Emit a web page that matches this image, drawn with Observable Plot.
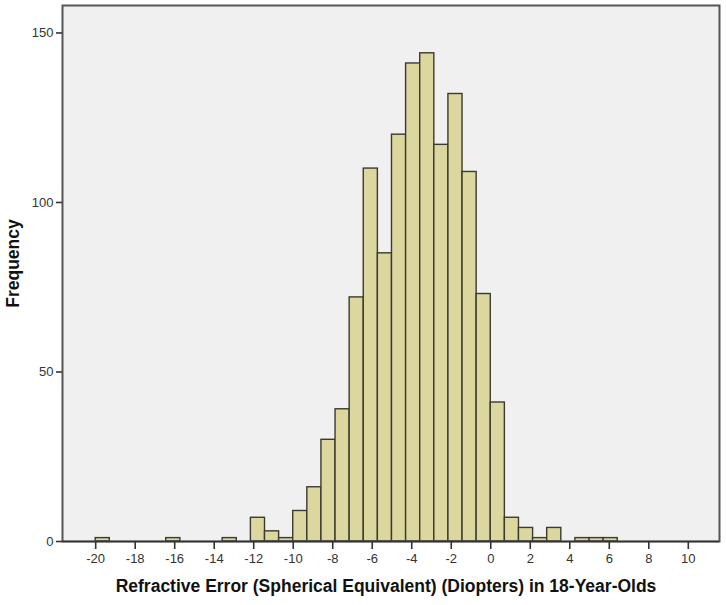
<!DOCTYPE html>
<html>
<head>
<meta charset="utf-8">
<script src="https://cdn.jsdelivr.net/npm/d3@7"></script>
<script src="https://cdn.jsdelivr.net/npm/@observablehq/plot@0.6"></script>
<style>
  html, body { margin: 0; padding: 0; background: #ffffff; }
  #chart svg { display: block; font-family: "Liberation Sans", Arial, sans-serif; }
</style>
</head>
<body>
<div id="chart"></div>
<script>
// Histogram bins: first lower edge and bin width (SPSS automatic bins)
const binFirstEdge = -20;
const binWidth = 5 / 7;
// Frequency per bin, starting at -20
const counts = [1, 0, 0, 0, 0, 1, 0, 0, 0, 1, 0, 7, 3, 1, 9, 16, 30, 39, 72, 110,
                85, 120, 141, 144, 117, 132, 109, 73, 41, 7, 4, 1, 4, 0, 1, 1, 1];
const xTicks = [-20, -18, -16, -14, -12, -10, -8, -6, -4, -2, 0, 2, 4, 6, 8, 10];
const yTicks = [0, 50, 100, 150];
const xTitle = "Refractive Error (Spherical Equivalent) (Diopters) in 18-Year-Olds";
const yTitle = "Frequency";

const bins = counts.map((c, i) => ({
  x1: binFirstEdge + i * binWidth,
  x2: binFirstEdge + (i + 1) * binWidth,
  count: c
})).filter(d => d.count > 0);

const chart = Plot.plot({
  width: 726,
  height: 605,
  marginLeft: 62,
  marginRight: 7,
  marginTop: 5,
  marginBottom: 64,
  x: { domain: [-21.68, 11.58] },
  y: { domain: [0, 158.1] },
  style: { fontFamily: "Liberation Sans, Arial, sans-serif", fontSize: "13px", color: "#222" },
  marks: [
    Plot.frame({ fill: "#F0F0F0", stroke: null }),
    Plot.rectY(bins, {
      x1: "x1", x2: "x2", y: "count",
      fill: "#DCD79F", stroke: "#3a3a30", strokeWidth: 1.4, inset: 0
    }),
    Plot.frame({ stroke: "#555", strokeWidth: 2 }),
    Plot.axisX(xTicks, {
      anchor: "bottom", tickSize: 8, tickPadding: 4, stroke: "#333", strokeWidth: 1.6,
      fontSize: 13, fill: "#333", label: null, tickFormat: d => String(d).replace("−", "-")
    }),
    Plot.axisY(yTicks, {
      anchor: "left", tickSize: 6, tickPadding: 3, stroke: "#333", strokeWidth: 1.6,
      fontSize: 13, fill: "#333", label: null
    }),
    Plot.ruleY([0], { stroke: "#333", strokeWidth: 1.6 }),
    Plot.text([xTitle], {
      frameAnchor: "bottom", dy: 50, dx: -5, fontWeight: "bold", fontSize: 17.5, fill: "#111"
    }),
    Plot.text([yTitle], {
      frameAnchor: "left", textAnchor: "middle", dx: -49, dy: -10, rotate: -90,
      fontWeight: "bold", fontSize: 17.5, fill: "#111"
    })
  ]
});
document.getElementById("chart").appendChild(chart);
</script>
</body>
</html>
